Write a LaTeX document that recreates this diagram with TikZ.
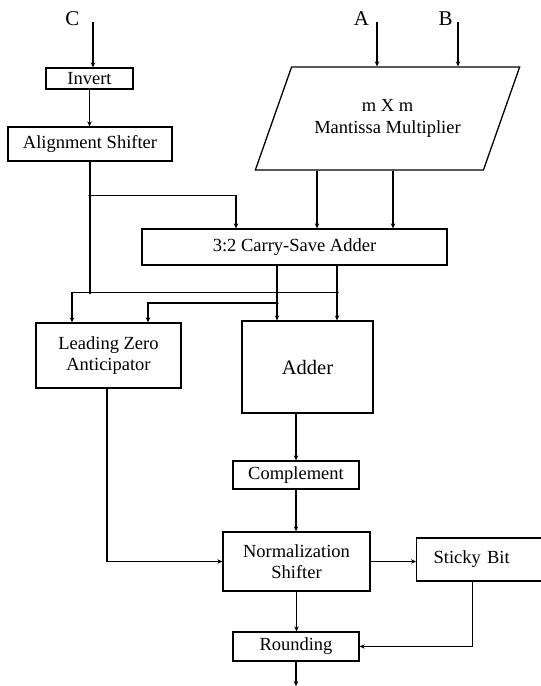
\documentclass[tikz,border=0pt]{standalone}
\usepackage{fontspec}
\setmainfont{Liberation Serif}
\usetikzlibrary{arrows.meta,positioning,calc,shapes.geometric}

\begin{document}
\begin{tikzpicture}[x=1pt,y=-1pt,
		block/.style={draw, line width=1.3pt, inner sep=1pt, align=center, font=\fontsize{18.5}{21}\selectfont},
		arr/.style={line width=1.3pt, -{Stealth[length=5pt,width=4.5pt]}},
		wire/.style={line width=1.3pt},
		jdot/.style={circle, fill, inner sep=0pt, minimum size=3.5pt},
		lbl/.style={font=\fontsize{21}{21}\selectfont}]
		\clip (0,0) rectangle (541,686);
		\node[block, minimum width=87, minimum height=21] (inv) at (89.5,78.5) {Invert};
		\node[block, minimum width=164, minimum height=34] (align) at (90,144) {Alignment Shifter};
		\node[draw, line width=1.3pt, trapezium, trapezium left angle=54, trapezium right angle=126,
			trapezium stretches=true, minimum width=265, minimum height=103, inner sep=0pt,
			align=center, font=\fontsize{18.5}{22}\selectfont] (mult) at (387.5,118.5) {m X m\\Mantissa Multiplier};
		\node[block, minimum width=305, minimum height=36] (csa) at (294.5,247) {3:2 Carry-Save Adder};
		\node[block, minimum width=145, minimum height=65] (lza) at (108.5,355.5) {Leading Zero\\Anticipator};
		\node[block, minimum width=131, minimum height=92, font=\fontsize{20.5}{22}\selectfont] (adder) at (307.5,367) {Adder};
		\node[block, minimum width=126, minimum height=28] (comp) at (296,475) {Complement};
		\node[block, minimum width=147, minimum height=59] (ns) at (296.5,561.5) {Normalization\\Shifter};
		\node[block, anchor=west, minimum height=43, text width=110pt, align=left, inner xsep=17pt] (sticky) at (416,559.5) {Sticky Bit};
		\node[block, minimum width=126, minimum height=29] (round) at (296,646.5) {Rounding};

		\node[lbl] (lblC) at (72.5,19) {C};
		\node[lbl] (lblA) at (361.5,18.5) {A};
		\node[lbl] (lblB) at (445.5,18.5) {B};
		\coordinate (inC) at (93,22);
		\coordinate (inA) at (377,22);
		\coordinate (inB) at (458,22);
		\coordinate (out) at (296,686);

		% inputs
		\draw[arr] (inC) -- (inC |- inv.north);
		\draw[arr] (inA) -- (inA |- mult.north);
		\draw[arr] (inB) -- (inB |- mult.north);
		\draw[arr] (inv.south) -- (inv.south |- align.north);

		% shifted C to the adders
		\coordinate (j1) at ($(align.south)+(0,34)$);
		\coordinate (j2) at ($(align.south)+(0,131)$);
		\draw[wire] (align.south) -- (j2);
		\draw[arr] (j1) -| ([xshift=-58.5]csa.north);
		\draw[arr] ([xshift=-70.5]mult.south) -- ([xshift=-70.5]mult.south |- csa.north);
		\draw[arr] ([xshift=5.5]mult.south) -- ([xshift=5.5]mult.south |- csa.north);

		% sum and carry
		\coordinate (j3) at ([xshift=42.5]csa.south |- j2);
		\coordinate (j4) at (277,303);
		\draw[arr] ([xshift=-17.5]csa.south) -- ([xshift=-17.5]csa.south |- adder.north);
		\draw[arr] ([xshift=42.5]csa.south) -- ([xshift=42.5]csa.south |- adder.north);
		\draw[arr] (j3) -| ([xshift=-36.5]lza.north);
		\draw[arr] (j4) -| ([xshift=39.5]lza.north);
		\foreach \j in {j1,j2,j3,j4}
			\node[jdot] at (\j) {};

		% normalize and round
		\draw[arr] (comp.north |- adder.south) -- (comp.north);
		\draw[arr] (comp.south) -- (comp.south |- ns.north);
		\draw[arr] ([xshift=-1.5]lza.south) |- (ns.west);
		\draw[arr] (ns.east) -- (ns.east -| sticky.west);
		\draw[arr] (ns.south) -- (ns.south |- round.north);
		\draw[arr] ([xshift=-16]sticky.south) |- (round.east);
		\draw[arr] (round.south) -- (out);
	\end{tikzpicture}
\end{document}
